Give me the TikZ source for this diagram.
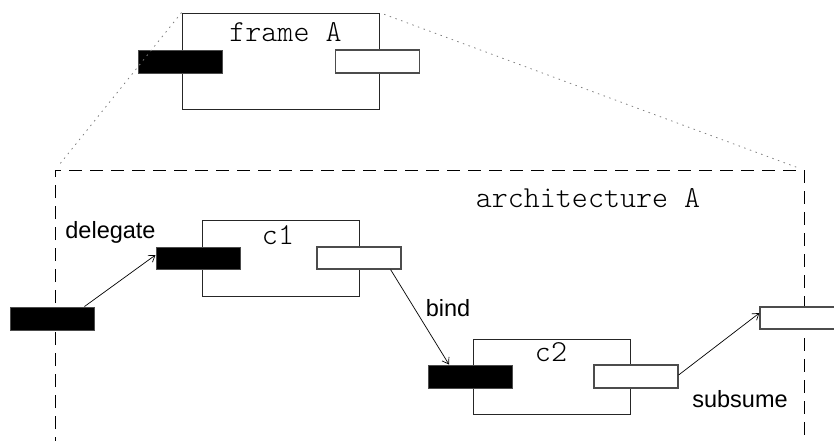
\documentclass[tikz,border=0pt]{standalone}
\usepackage{fontspec}
\usetikzlibrary{arrows.meta}
\setmainfont{Liberation Sans}
\newfontfamily\monolight{Latin Modern Mono Light}
\begin{document}
\begin{tikzpicture}[x=1pt,y=-1pt,
  compbox/.style={draw=black!85, line width=0.9pt, fill=white, rectangle, inner sep=0pt},
  reqport/.style={draw=black!70, line width=1pt, fill=black, rectangle, inner sep=0pt,
                  minimum width=84pt, minimum height=23pt},
  provport/.style={draw=black!70, line width=1.2pt, fill=white, rectangle, inner sep=0pt,
                   minimum width=84pt, minimum height=23pt},
  monolabel/.style={font=\monolight\fontsize{30.5}{33}\selectfont, inner sep=0pt, anchor=base},
  sanslabel/.style={font=\fontsize{23.5}{26}\selectfont, inner sep=0pt, anchor=base},
  zoomline/.style={draw=black!50, line width=0.8pt, dash pattern=on 1.5pt off 4.5pt},
  archline/.style={draw=black, line width=0.9pt, dash pattern=on 13pt off 8pt},
  link/.style={draw=black, line width=0.7pt, -{Straight Barb[length=6pt,width=8pt]}}]
\useasboundingbox (0,0) rectangle (834,440);

% architecture boundary (open at the bottom)
\coordinate (archBL) at (55,450);
\coordinate (archTL) at (55,170);
\coordinate (archTR) at (804,170);
\coordinate (archBR) at (804,450);
\draw[archline] (archBL) -- (archTL) -- (archTR) -- (archBR);

% frame A with its two ports
\node[compbox, minimum width=197pt, minimum height=96pt] (frameA) at (280.5,61) {};
\node[reqport] (fAin) at (180,61.5) {};
\node[provport] (fAout) at (377.5,61.5) {};
\node[monolabel] (fAlabel) at (285.5,41) {frame A};

% dotted zoom lines from frame A down to the architecture
\draw[zoomline, shorten >=8pt] (frameA.north west) -- (archTL);
\draw[zoomline, shorten >=8pt, shorten <=5pt] (frameA.north east) -- (archTR);

\node[monolabel] (archlabel) at (588,207) {architecture A};

% component c1
\node[compbox, minimum width=157pt, minimum height=76pt] (c1) at (280.5,258) {};
\node[reqport, minimum height=22pt] (c1in) at (198,258) {};
\node[provport, minimum height=22pt] (c1out) at (359,258) {};
\node[monolabel] (c1label) at (278,244) {c1};

% component c2
\node[compbox, minimum width=157pt, minimum height=75pt] (c2) at (551.5,376.5) {};
\node[reqport] (c2in) at (470,376.5) {};
\node[provport] (c2out) at (636,376.5) {};
\node[monolabel] (c2label) at (551,361) {c2};

% ports on the architecture boundary
\node[reqport] (archin) at (52,318.5) {};
\node[provport, minimum height=22pt] (archout) at (802,318) {};

% connectors
\draw[link] ([xshift=-10pt]archin.north east) -- ([yshift=3pt]c1in.west);
\draw[link] ([xshift=-11pt]c1out.south east) -- ([xshift=-21pt]c2in.north);
\draw[link] ([yshift=1.5pt]c2out.east) -- ([yshift=5pt]archout.west);

% connector labels
\node[sanslabel] (lbldelegate) at (110.5,238) {delegate};
\node[sanslabel] (lblbind) at (448,316) {bind};
\node[sanslabel] (lblsubsume) at (740,407) {subsume};
\end{tikzpicture}
\end{document}
